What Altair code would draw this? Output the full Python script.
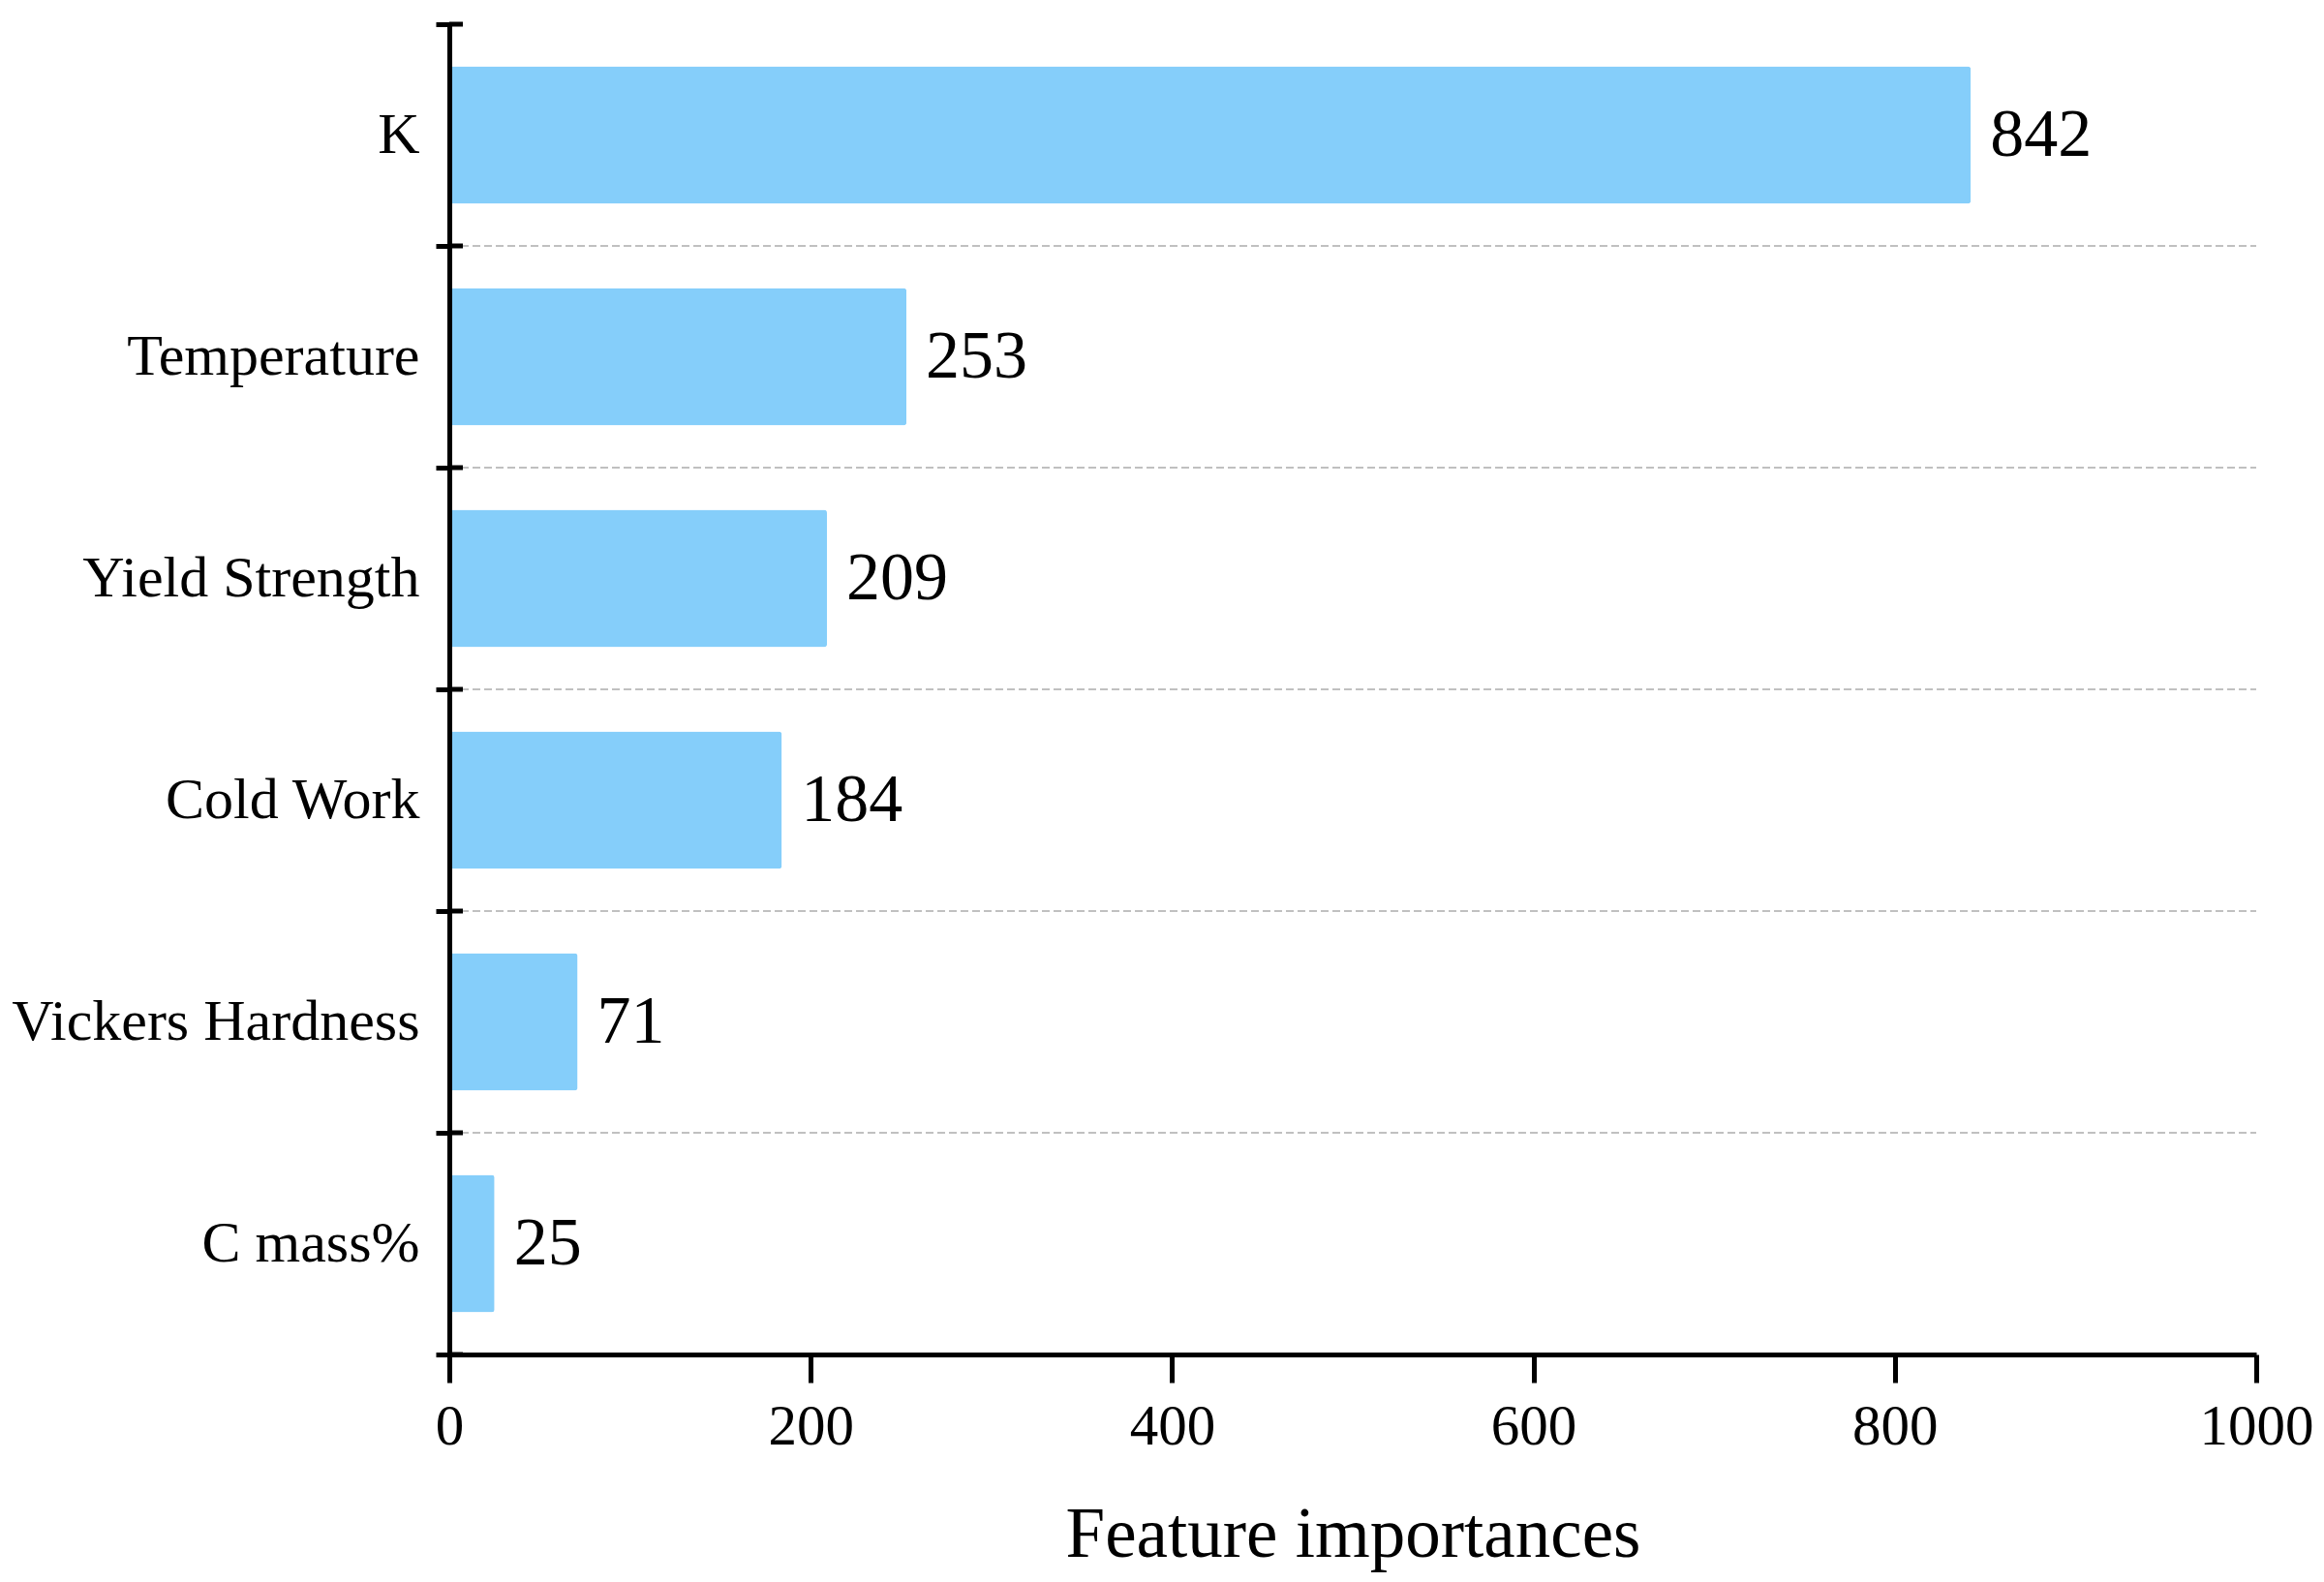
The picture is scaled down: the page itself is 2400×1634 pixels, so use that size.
import altair as alt
import pandas as pd

# ---- data ----
features = ["K", "Temperature", "Yield Strength", "Cold Work", "Vickers Hardness", "C mass%"]
importances = [842, 253, 209, 184, 71, 25]
x_ticks = [0, 200, 400, 600, 800, 1000]
x_domain = [0, 1000]
x_title = "Feature importances"

df = pd.DataFrame({"feature": features, "importance": importances})
gap_df = pd.DataFrame({"feature": features[1:]})          # dashed separators between bars
tick_df = pd.DataFrame({"feature": features})              # inner tick marks (band starts)
end_df = pd.DataFrame({"feature": features[-1:]})          # inner tick at last band end

FONT = "Liberation Serif"
W, H = 1866, 1374

y_scale = alt.Scale(domain=features, paddingInner=0, paddingOuter=0)
x_scale = alt.Scale(domain=x_domain, nice=False, zero=True)

y_axis = alt.Axis(
    title=None, tickBand="extent", tickSize=14, tickWidth=5, tickColor="black",
    domainWidth=5, domainColor="black", labelFont=FONT, labelFontSize=60,
    labelColor="black", labelPadding=17, labelLimit=0, grid=False, zindex=1,
)
x_axis = alt.Axis(
    title=x_title, values=x_ticks, format="d", tickSize=29, tickWidth=5,
    tickColor="black", domainWidth=5, domainColor="black", labelFont=FONT,
    labelFontSize=59, labelColor="black", labelPadding=16, labelFlush=False,
    titleFont=FONT, titleFontSize=73, titleFontWeight="normal", titleColor="black",
    titlePadding=46, grid=False, zindex=1,
)

bars = alt.Chart(df).mark_bar(
    color="#85CEFA", height=alt.RelativeBandSize(0.62), cornerRadiusEnd=3
).encode(
    x=alt.X("importance:Q", scale=x_scale, axis=x_axis, title=x_title),
    y=alt.Y("feature:N", scale=y_scale, sort=None, axis=y_axis),
)

labels = alt.Chart(df).mark_text(
    align="left", baseline="middle", dx=20, font=FONT, fontSize=70, color="black"
).encode(
    x=alt.X("importance:Q", title=x_title),
    y=alt.Y("feature:N", sort=None),
    text=alt.Text("importance:Q"),
)

grid = alt.Chart(gap_df).mark_rule(
    color="#c0c0c0", strokeWidth=2, strokeDash=[8, 4]
).encode(
    y=alt.Y("feature:N", sort=None, bandPosition=0),
    x=alt.datum(x_domain[0]),
    x2=alt.datum(x_domain[1]),
)

inner_ticks = alt.Chart(tick_df).mark_rule(color="black", strokeWidth=5).encode(
    y=alt.Y("feature:N", sort=None, bandPosition=0),
    x=alt.value(0),
    x2=alt.value(14),
)
inner_end = alt.Chart(end_df).mark_rule(color="black", strokeWidth=5).encode(
    y=alt.Y("feature:N", sort=None, bandPosition=1),
    x=alt.value(0),
    x2=alt.value(14),
)

chart = alt.layer(bars, labels, grid, inner_ticks, inner_end).properties(
    width=W, height=H,
    background="white",
    autosize=alt.AutoSizeParams(type="none"),
    padding={"left": 456, "top": 17, "right": 60, "bottom": 226},
).configure_view(stroke="transparent", strokeWidth=0)

chart.save("out.html", embed_options={"renderer": "svg", "actions": False})
